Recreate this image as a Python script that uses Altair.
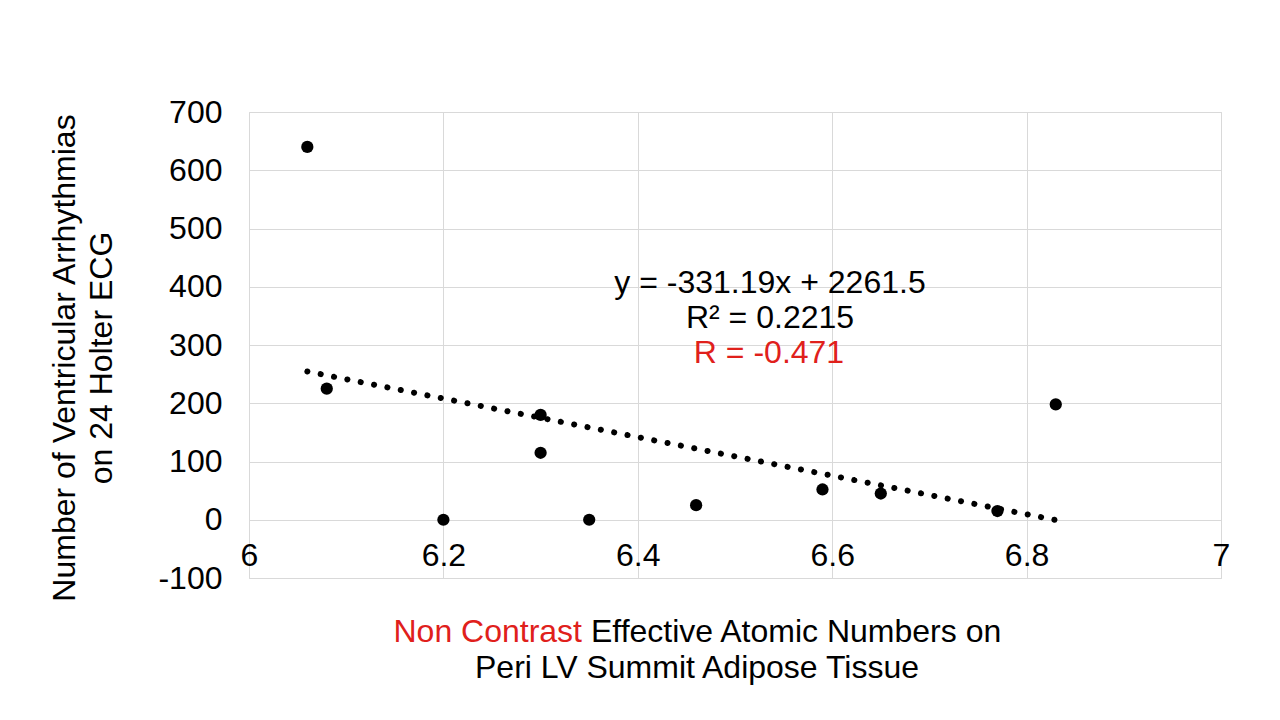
import altair as alt
import pandas as pd

# ---- data ----
x_vals = [6.06, 6.08, 6.20, 6.30, 6.30, 6.35, 6.46, 6.59, 6.65, 6.77, 6.83]
y_vals = [640, 225, 0, 180, 115, 0, 25, 52, 45, 15, 198]

slope = -331.19
intercept = 2261.5
trend_x = [6.06, 6.83]
trend_y = [slope * v + intercept for v in trend_x]

x_ticks = [6.0, 6.2, 6.4, 6.6, 6.8, 7.0]
y_ticks = [-100, 0, 100, 200, 300, 400, 500, 600, 700]

eq_lines = ["y = -331.19x + 2261.5", "R² = 0.2215"]
r_line = ["R = -0.471"]
y_title = ["Number of Ventricular Arrhythmias", "on 24 Holter ECG"]
x_title_red = ["Non Contrast"]
x_title_black1 = ["Effective Atomic Numbers on"]
x_title_black2 = ["Peri LV Summit Adipose Tissue"]

FONT = "Liberation Sans"
FS = 32
RED = "#e0201b"
W, H = 972, 466

pts = pd.DataFrame({"x": x_vals, "y": y_vals})
trend = pd.DataFrame({"x": trend_x, "y": trend_y})

xscale = alt.Scale(domain=[6, 7], nice=False, zero=False)
yscale = alt.Scale(domain=[-100, 700], nice=False, zero=False)

xaxis = alt.Axis(values=x_ticks, format="~g", title=None, grid=True, gridColor="#d9d9d9",
                 domain=False, ticks=False, tickSize=0, labelPadding=-23,
                 labelBaseline="middle", labelFlush=False, labelOverlap=False,
                 labelFont=FONT, labelFontSize=FS, labelColor="#000000")
yaxis = alt.Axis(values=y_ticks, labelExpr="'' + datum.value", title=None, grid=True,
                 gridColor="#d9d9d9",
                 domain=False, ticks=False, tickSize=0, labelPadding=27,
                 labelFlush=False, labelOverlap=False,
                 labelFont=FONT, labelFontSize=FS, labelColor="#000000")

points = alt.Chart(pts).mark_circle(color="#000000", opacity=1, size=150).encode(
    x=alt.X("x:Q", scale=xscale, axis=xaxis),
    y=alt.Y("y:Q", scale=yscale, axis=yaxis),
)

line = alt.Chart(trend).mark_line(color="#000000", strokeWidth=6, strokeCap="round",
                                  strokeDash=[0.1, 13.5]).encode(
    x=alt.X("x:Q", scale=xscale),
    y=alt.Y("y:Q", scale=yscale),
)

def txt(lines, x, y0, dy, color="#000000", align="center", angle=0, baseline="middle"):
    layers = []
    for i, t in enumerate(lines):
        kw = dict(font=FONT, fontSize=FS, color=color, align=align, baseline=baseline)
        if angle:
            kw["angle"] = angle
        c = alt.Chart(pd.DataFrame({"t": [t]})).mark_text(**kw).encode(
            text="t:N",
            x=alt.value(x + (dy * i if angle else 0)),
            y=alt.value(y0 + (0 if angle else dy * i)),
        )
        layers.append(c)
    return layers

ann = txt(eq_lines, 521, 171, 35) + txt(r_line, 520, 241, 0, color=RED)
ytitle = txt(y_title, -184, 246, 37, angle=270)
xt = (txt(x_title_red, 333, 520, 0, color=RED, align="right")
      + txt(x_title_black1, 342, 520, 0, align="left")
      + txt(x_title_black2, 448, 556, 0))

chart = alt.layer(points, line, *ann, *ytitle, *xt).properties(
    width=W, height=H,
    autosize=alt.AutoSizeParams(type="none"),
    padding={"left": 241, "top": 104, "right": 51, "bottom": 120},
).configure_view(stroke="#d9d9d9", strokeWidth=1)

chart.save("out.html", embed_options={"renderer": "svg", "actions": False})
